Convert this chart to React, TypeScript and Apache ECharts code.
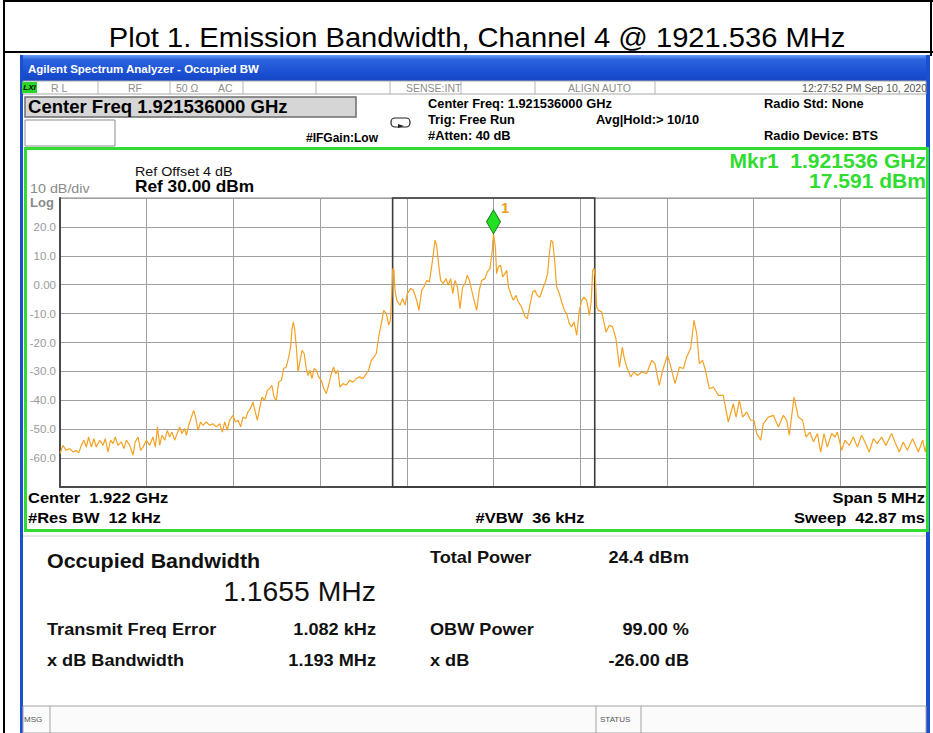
import React, { useEffect, useRef } from 'react';
import * as echarts from 'echarts';

// ---- Data (frequency offset from centre in MHz, level in dBm) ----
const spanHalfMHz = 2.5;
const refLevel = 30;
const bottomLevel = -70;
const yTickValues = [20, 10, 0, -10, -20, -30, -40, -50, -60];
const obwEdges = [-0.5817, 0.5838];
const markerPoint: [number, number] = [0, 17.591];

const lowerSkirt: [number, number][] = [
  [-2.500, -58.4], [-2.483, -55.6], [-2.464, -57.3], [-2.445, -56.7], [-2.425, -57.9], [-2.406, -57.3],
  [-2.392, -58.2], [-2.377, -55.6], [-2.362, -53.8], [-2.348, -56.2], [-2.335, -52.7], [-2.319, -56.2],
  [-2.304, -53.3], [-2.291, -56.2], [-2.271, -53.8], [-2.252, -55.6], [-2.239, -53.3], [-2.223, -57.9],
  [-2.208, -53.8], [-2.194, -55.0], [-2.181, -52.7], [-2.166, -55.6], [-2.146, -54.4], [-2.131, -56.7],
  [-2.117, -53.8], [-2.098, -55.6], [-2.079, -59.0], [-2.066, -54.4], [-2.050, -52.7], [-2.035, -57.3],
  [-2.021, -56.2], [-2.002, -53.8], [-1.983, -55.6], [-1.964, -52.7], [-1.950, -56.2], [-1.938, -49.2],
  [-1.925, -55.6], [-1.912, -52.1], [-1.896, -53.8], [-1.881, -50.4], [-1.868, -52.7], [-1.854, -51.0],
  [-1.839, -53.8], [-1.824, -51.5], [-1.810, -49.2], [-1.797, -51.5], [-1.781, -49.8], [-1.771, -52.1],
  [-1.758, -48.7], [-1.742, -45.8], [-1.729, -43.5], [-1.718, -45.8], [-1.704, -50.4], [-1.689, -47.5],
  [-1.675, -48.7], [-1.656, -47.5], [-1.637, -48.7], [-1.618, -48.1], [-1.599, -49.2], [-1.579, -48.1],
  [-1.564, -51.0], [-1.550, -47.5], [-1.535, -50.4], [-1.522, -46.9], [-1.502, -45.2], [-1.489, -47.5],
  [-1.473, -46.9], [-1.458, -49.2], [-1.445, -45.8], [-1.429, -46.3], [-1.416, -44.0], [-1.402, -42.9],
  [-1.387, -40.6], [-1.374, -44.0], [-1.362, -46.9], [-1.349, -42.9], [-1.335, -38.9], [-1.320, -40.0],
  [-1.304, -36.5], [-1.291, -36.0], [-1.278, -34.8], [-1.266, -38.9], [-1.252, -40.0], [-1.239, -33.7],
  [-1.223, -33.1], [-1.210, -29.0], [-1.195, -28.5], [-1.181, -25.0], [-1.170, -21.6], [-1.162, -15.2],
  [-1.154, -12.9], [-1.146, -15.8], [-1.137, -21.6], [-1.127, -30.2], [-1.115, -26.2], [-1.104, -22.7],
  [-1.092, -23.8], [-1.081, -28.5], [-1.070, -31.4], [-1.058, -29.6], [-1.047, -32.5], [-1.035, -29.0],
  [-1.022, -29.6], [-1.008, -31.9], [-0.993, -33.1], [-0.978, -36.0], [-0.964, -37.7], [-0.951, -34.8],
  [-0.935, -30.8], [-0.922, -28.5], [-0.910, -30.8], [-0.897, -29.6], [-0.886, -35.4], [-0.868, -34.2],
  [-0.849, -34.8], [-0.830, -33.1], [-0.810, -33.7], [-0.791, -32.5], [-0.772, -31.9], [-0.753, -32.5],
  [-0.733, -30.8], [-0.720, -29.6], [-0.705, -26.2], [-0.689, -25.0], [-0.676, -23.8], [-0.662, -18.1],
  [-0.647, -13.5], [-0.633, -8.9], [-0.618, -10.0], [-0.604, -14.0], [-0.595, -12.3],
];

const mainLobe: [number, number][] = [
  [-0.587, -3.7], [-0.581, 5.6], [-0.574, 5.0], [-0.568, -1.9], [-0.558, -5.4], [-0.539, -7.1],
  [-0.524, -4.8], [-0.510, -7.1], [-0.497, -3.1], [-0.477, -1.3], [-0.462, -1.9], [-0.443, -5.4],
  [-0.430, -8.9], [-0.414, -1.9], [-0.401, -0.8], [-0.385, 1.5], [-0.370, 0.9], [-0.357, 6.1],
  [-0.347, 10.7], [-0.337, 15.4], [-0.328, 13.6], [-0.318, 7.9], [-0.305, 1.5], [-0.290, 0.4],
  [-0.274, 2.1], [-0.261, -0.2], [-0.247, 2.1], [-0.235, -3.1], [-0.222, 1.5], [-0.208, -0.8],
  [-0.193, -8.3], [-0.178, -0.8], [-0.164, 0.4], [-0.151, 3.3], [-0.139, 1.5], [-0.126, -1.9],
  [-0.112, -5.4], [-0.097, -8.9], [-0.082, -1.9], [-0.068, 1.5], [-0.049, 2.1], [-0.036, 4.4],
  [-0.020, 5.6], [-0.007, 11.9], [0.000, 17.591], [0.011, 13.0], [0.018, 3.8], [0.028, 6.1],
  [0.041, 6.7], [0.053, 2.7], [0.066, 3.8], [0.076, 5.0], [0.086, -0.8], [0.099, -3.1],
  [0.114, -5.4], [0.130, -3.7], [0.143, -6.0], [0.162, -7.7], [0.182, -11.2], [0.195, -11.7],
  [0.210, -7.1], [0.226, -2.5], [0.239, -1.9], [0.253, -3.7], [0.268, -4.3], [0.284, -1.3],
  [0.299, 0.9], [0.312, 3.8], [0.322, 10.7], [0.332, 15.4], [0.341, 14.8], [0.351, 9.6],
  [0.364, -0.8], [0.380, -3.1], [0.393, -6.0], [0.409, -8.9], [0.422, -10.0], [0.437, -13.5],
  [0.451, -14.6], [0.464, -12.9], [0.480, -17.5], [0.495, -8.9], [0.509, -5.4], [0.522, -4.3],
  [0.537, -5.4], [0.553, -10.6], [0.564, -5.4], [0.572, 5.0], [0.580, 5.6], [0.587, 2.7],
  [0.595, -7.7],
];

const upperSkirt: [number, number][] = [
  [0.605, -8.9], [0.624, -9.4], [0.649, -16.4], [0.668, -14.0], [0.687, -14.6], [0.706, -18.7],
  [0.726, -28.5], [0.743, -21.6], [0.753, -25.0], [0.768, -28.5], [0.791, -31.9], [0.810, -30.2],
  [0.830, -31.4], [0.855, -30.2], [0.883, -30.8], [0.912, -26.2], [0.931, -27.3], [0.956, -34.8],
  [0.976, -29.6], [1.003, -24.4], [1.018, -27.3], [1.047, -34.2], [1.072, -28.5], [1.095, -29.0],
  [1.114, -25.0], [1.137, -22.1], [1.156, -12.3], [1.172, -16.9], [1.187, -27.3], [1.206, -26.2],
  [1.222, -29.6], [1.245, -36.0], [1.268, -35.4], [1.297, -38.3], [1.325, -38.3], [1.354, -47.5],
  [1.383, -41.2], [1.399, -45.8], [1.418, -40.0], [1.437, -45.8], [1.460, -44.0], [1.483, -46.9],
  [1.502, -46.9], [1.518, -51.5], [1.541, -53.8], [1.556, -48.1], [1.585, -45.8], [1.614, -45.2],
  [1.643, -49.2], [1.672, -45.2], [1.691, -46.9], [1.706, -52.1], [1.733, -38.9], [1.758, -45.8],
  [1.783, -46.9], [1.802, -52.7], [1.825, -51.0], [1.845, -54.4], [1.868, -51.5], [1.887, -57.9],
  [1.906, -51.5], [1.925, -56.2], [1.950, -51.5], [1.970, -52.7], [1.983, -51.0], [2.008, -57.3],
  [2.027, -53.8], [2.052, -55.6], [2.075, -52.7], [2.098, -56.2], [2.123, -52.1], [2.142, -54.4],
  [2.167, -57.9], [2.191, -53.3], [2.213, -55.0], [2.238, -52.7], [2.263, -55.6], [2.296, -51.5],
  [2.315, -54.4], [2.340, -57.9], [2.363, -54.4], [2.386, -57.3], [2.417, -53.3], [2.450, -57.9],
  [2.475, -53.8], [2.490, -57.9], [2.500, -54.4],
];

const FONT = 'Arial, "Liberation Sans", Helvetica, sans-serif';

function txt(x: number, y: number, text: string, o: any = {}) {
  return {
    type: 'text',
    x,
    y,
    z: 50,
    scaleX: o.sx || 1,
    style: {
      text,
      fill: o.fill || '#000',
      fontSize: o.size || 12,
      fontWeight: o.weight || 'normal',
      fontStyle: o.style || 'normal',
      fontFamily: FONT,
      textAlign: o.align || 'left',
      textVerticalAlign: 'middle',
    },
  };
}
function ln(x1: number, y1: number, x2: number, y2: number, stroke: string, lineWidth = 1) {
  return { type: 'line', z: 40, shape: { x1, y1, x2, y2 }, style: { stroke, lineWidth } };
}
function rc(x: number, y: number, width: number, height: number, style: any, z = 30, r = 0) {
  return { type: 'rect', z, shape: { x, y, width, height, r }, style };
}

export default function App() {
  const ref = useRef<HTMLDivElement>(null);
  useEffect(() => {
    if (!ref.current) return;
    const chart = echarts.init(ref.current, undefined, { renderer: 'svg' });
    const gray = '#8c8c8c';
    const green = '#2fdc2f';
    const rowSeps = [98, 170, 243, 316, 390, 461, 535, 655];
    const hdr = { size: 12, weight: 'bold', sx: 1.07 };
    const res = { size: 16.5, weight: 'bold', fill: '#111', sx: 1.1 };
    const graphic: any[] = [
      // document table frame
      ln(4, 1, 933, 1, '#000', 2),
      ln(4, 0, 4, 733, '#000', 2),
      ln(4, 52, 933, 52, '#000', 2),
      ln(931, 0, 931, 56, '#000', 2),
      txt(477, 37, 'Plot 1. Emission Bandwidth, Channel 4 @ 1921.536 MHz', { size: 28, align: 'center', sx: 1.04 }),
      // window title bar
      rc(20, 55, 910, 26, {
        fill: new echarts.graphic.LinearGradient(0, 0, 0, 1, [
          { offset: 0, color: '#6a9cf4' },
          { offset: 0.18, color: '#2c64de' },
          { offset: 0.7, color: '#1a4fd2' },
          { offset: 1, color: '#1646c2' },
        ]),
      }),
      txt(28, 69, 'Agilent Spectrum Analyzer - Occupied BW', { size: 11.5, weight: 'bold', fill: '#fff' }),
      rc(20, 55, 3, 678, { fill: '#1c4fd0' }),
      rc(926, 55, 4, 678, { fill: '#1c4fd0' }),
      // status row
      rc(23, 81, 903, 13, { fill: '#ffffff', stroke: '#a8a8a8', lineWidth: 1 }),
      ...rowSeps.map((x) => ln(x, 81, x, 94, '#b4b4b4', 1)),
      rc(22, 82, 15, 11, { fill: '#2bd62b' }, 45),
      txt(29.5, 87.5, 'LXI', { size: 8, weight: 'bold', style: 'italic', align: 'center' }),
      txt(51, 88, 'R L', { size: 10.5, fill: gray }),
      txt(128, 88, 'RF', { size: 10.5, fill: gray }),
      txt(176, 88, '50 Ω', { size: 10.5, fill: gray }),
      txt(218, 88, 'AC', { size: 10.5, fill: gray }),
      txt(406, 88, 'SENSE:INT', { size: 10.5, fill: gray }),
      txt(568, 88, 'ALIGN AUTO', { size: 10.5, fill: gray }),
      txt(927, 88, '12:27:52 PM Sep 10, 2020', { size: 10.5, fill: '#555', align: 'right' }),
      // settings rows
      rc(25, 97, 331, 20, { fill: '#d6d6d6', stroke: '#6e6e6e', lineWidth: 1.5 }),
      txt(28, 107.5, 'Center Freq 1.921536000 GHz', { size: 17.5, weight: 'bold', sx: 1.06 }),
      rc(25, 120, 90, 26, { fill: '#fff', stroke: '#8c8c8c', lineWidth: 1 }),
      txt(306, 138, '#IFGain:Low', { size: 12, weight: 'bold' }),
      rc(391, 118, 19, 9, { fill: 'none', stroke: '#222', lineWidth: 1.2 }, 40, 4),
      { type: 'polygon', z: 45, shape: { points: [[398, 124], [404, 126], [398, 128]] }, style: { fill: '#222' } },
      txt(428, 104, 'Center Freq: 1.921536000 GHz', hdr),
      txt(428, 120, 'Trig: Free Run', hdr),
      txt(428, 136, '#Atten: 40 dB', hdr),
      txt(596, 120, 'Avg|Hold:> 10/10', hdr),
      txt(764, 104, 'Radio Std: None', hdr),
      txt(764, 136, 'Radio Device: BTS', hdr),
      // green frame of trace panel
      rc(25.5, 148.5, 902, 382, { fill: 'none', stroke: green, lineWidth: 3 }, 35),
      txt(135, 171, 'Ref Offset 4 dB', { size: 13.5, fill: '#111', sx: 1.06 }),
      txt(135, 187, 'Ref 30.00 dBm', { size: 16, weight: 'bold', sx: 1.08 }),
      txt(30, 188, '10 dB/div', { size: 13.5, fill: '#8a8a8a', sx: 1.06 }),
      txt(30, 202, 'Log', { size: 13, weight: 'bold', fill: '#8a8a8a' }),
      txt(926, 161, 'Mkr1  1.921536 GHz', { size: 19.5, weight: 'bold', fill: green, align: 'right', sx: 1.08 }),
      txt(926, 181, '17.591 dBm', { size: 19.5, weight: 'bold', fill: green, align: 'right', sx: 1.08 }),
      txt(28, 498, 'Center  1.922 GHz', { size: 15, weight: 'bold', sx: 1.1 }),
      txt(28, 518, '#Res BW  12 kHz', { size: 15, weight: 'bold', sx: 1.1 }),
      txt(530, 518, '#VBW  36 kHz', { size: 15, weight: 'bold', align: 'center', sx: 1.1 }),
      txt(925, 498, 'Span 5 MHz', { size: 15, weight: 'bold', align: 'right', sx: 1.1 }),
      txt(925, 518, 'Sweep  42.87 ms', { size: 15, weight: 'bold', align: 'right', sx: 1.1 }),
      // results panel
      ln(23, 536, 926, 536, '#cfcfcf', 1),
      txt(47, 561, 'Occupied Bandwidth', { size: 19.5, weight: 'bold', fill: '#111', sx: 1.1 }),
      txt(376, 592, '1.1655 MHz', { size: 27, fill: '#111', align: 'right', sx: 1.05 }),
      txt(430, 557, 'Total Power', res),
      txt(689, 557, '24.4 dBm', { ...res, align: 'right' }),
      txt(47, 629, 'Transmit Freq Error', res),
      txt(376, 629, '1.082 kHz', { ...res, align: 'right' }),
      txt(430, 629, 'OBW Power', res),
      txt(689, 629, '99.00 %', { ...res, align: 'right' }),
      txt(47, 660, 'x dB Bandwidth', res),
      txt(376, 660, '1.193 MHz', { ...res, align: 'right' }),
      txt(430, 660, 'x dB', res),
      txt(689, 660, '-26.00 dB', { ...res, align: 'right' }),
      // message bar
      rc(23, 706, 903, 27, { fill: '#fbfbfb', stroke: '#a4a4a4', lineWidth: 1 }),
      ln(50, 706, 50, 733, '#a4a4a4', 1),
      ln(596, 706, 596, 733, '#a4a4a4', 1),
      ln(641, 706, 641, 733, '#a4a4a4', 1),
      txt(24, 719, 'MSG', { size: 8, fill: '#555' }),
      txt(600, 719, 'STATUS', { size: 8, fill: '#555' }),
    ];

    chart.setOption({
      animation: false,
      graphic,
      grid: { left: 60, top: 198, width: 867, height: 289, show: true, borderColor: '#8a8a8a', borderWidth: 1, backgroundColor: '#fff' },
      xAxis: {
        type: 'value',
        min: -spanHalfMHz,
        max: spanHalfMHz,
        interval: 0.5,
        axisLabel: { show: false },
        axisTick: { show: false },
        axisLine: { show: true, onZero: false, lineStyle: { color: '#4a4a4a', width: 2 } },
        splitLine: { show: true, lineStyle: { color: '#a0a0a0', width: 1 } },
      },
      yAxis: {
        type: 'value',
        min: bottomLevel,
        max: refLevel,
        interval: 10,
        axisTick: { show: false },
        axisLine: { show: true, onZero: false, lineStyle: { color: '#4a4a4a', width: 2 } },
        splitLine: { show: true, lineStyle: { color: '#a0a0a0', width: 1 } },
        axisLabel: {
          margin: 4,
          color: '#999',
          fontSize: 11.5,
          fontFamily: FONT,
          formatter: (v: number) => (yTickValues.includes(v) ? (v === 0 ? '0.00' : v.toFixed(1)) : ''),
        },
      },
      series: [
        {
          type: 'line',
          data: [...lowerSkirt, ...mainLobe, ...upperSkirt],
          showSymbol: false,
          symbol: 'none',
          lineStyle: { color: '#f4a224', width: 1.2 },
          z: 3,
          markArea: {
            silent: true,
            itemStyle: { color: 'rgba(0,0,0,0)', borderColor: '#3c3c3c', borderWidth: 1.6 },
            data: [[{ xAxis: obwEdges[0], yAxis: refLevel }, { xAxis: obwEdges[1], yAxis: bottomLevel }]],
          },
          markPoint: {
            silent: true,
            data: [
              {
                coord: markerPoint,
                symbol: 'diamond',
                symbolSize: [14, 24],
                symbolOffset: [0, -12],
                itemStyle: { color: '#22e022', borderColor: '#167a16', borderWidth: 1 },
                label: {
                  show: true,
                  formatter: '1',
                  position: [15, -9],
                  color: '#f0a020',
                  fontSize: 15,
                  fontWeight: 'bold',
                  fontFamily: FONT,
                },
              },
            ],
          },
        },
      ],
    });
    return () => chart.dispose();
  }, []);
  return <div ref={ref} style={{ position: 'fixed', left: 0, top: 0, width: 933, height: 733, background: '#fff' }} />;
}
